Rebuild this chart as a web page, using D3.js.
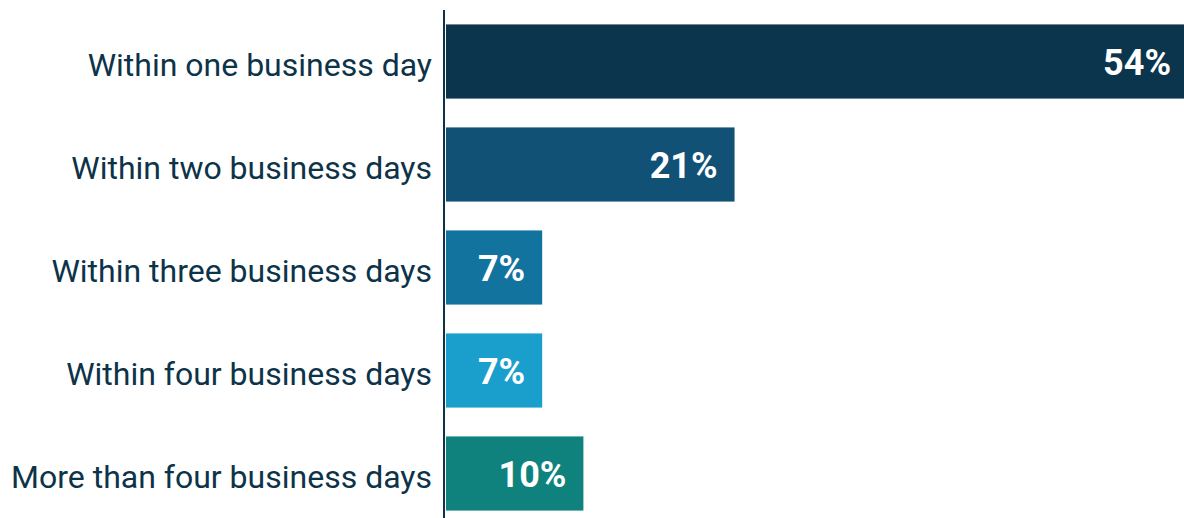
<!DOCTYPE html>
<html><head><meta charset="utf-8">
<script src="https://cdn.jsdelivr.net/npm/d3@7"></script>
<style>body{margin:0;background:#fff;overflow:hidden}svg{display:block}</style>
</head><body>
<svg id="c" width="1184" height="518"></svg>
<script>
const categories = ["Within one business day","Within two business days","Within three business days","Within four business days","More than four business days"];
const values = [54, 21, 7, 7, 10];
const colors = ["#0b354c","#115176","#13739f","#1a9fcd","#0f827e"];

const svg = d3.select("#c");
const x = d3.scaleLinear().domain([0, 54]).range([446, 1188]);
const y = d3.scaleBand().domain(categories).range([10, 525]).paddingInner(0.28).paddingOuter(0.14);

svg.selectAll("rect.bar").data(categories).join("rect")
  .attr("class","bar")
  .attr("x", x(0)).attr("y", d => y(d))
  .attr("width", (d,i) => x(values[i]) - x(0))
  .attr("height", y.bandwidth())
  .attr("fill", (d,i) => colors[i]);

svg.append("line").attr("x1",444).attr("x2",444).attr("y1",10).attr("y2",518)
  .attr("stroke","#0d3349").attr("stroke-width",2);

svg.selectAll("text.cat").data(categories).join("text")
  .attr("class","cat")
  .attr("x", 432).attr("y", d => y(d) + y.bandwidth()/2)
  .attr("dy","0.44em").attr("text-anchor","end")
  .attr("font-family","Roboto").attr("font-size",32).attr("fill","#0d3349")
  .text(d => d);

svg.selectAll("text.val").data(categories).join("text")
  .attr("class","val")
  .attr("x", (d,i) => x(values[i]) - 17).attr("y", d => y(d) + y.bandwidth()/2)
  .attr("dy","0.37em").attr("text-anchor","end")
  .attr("font-family","Roboto").attr("font-weight","bold").attr("font-size",36).attr("fill","#fff")
  .text((d,i) => values[i] + "%");
</script>
</body></html>
